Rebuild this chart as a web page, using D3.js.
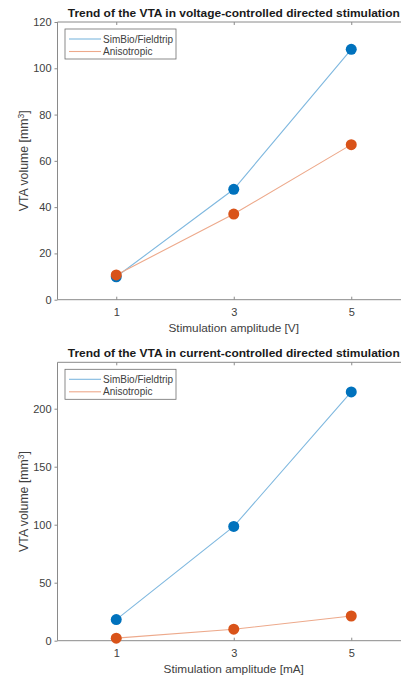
<!DOCTYPE html>
<html>
<head>
<meta charset="utf-8">
<script src="https://cdn.jsdelivr.net/npm/d3@7"></script>
<style>
  body { margin: 0; background: #fff; }
  svg { display: block; font-family: "Liberation Sans", Arial, sans-serif; }
</style>
</head>
<body>
<div id="chart"></div>
<script>
// amplitudes (x)
const amplitudes = [1, 3, 5];
const seriesNames = ["SimBio/Fieldtrip", "Anisotropic"];

// voltage-controlled, VTA volume [mm^3]
const voltSimBio = [9.9, 47.7, 108.2];
const voltAniso = [10.7, 37.0, 67.0];

// current-controlled, VTA volume [mm^3]
const currSimBio = [18.2, 98.5, 214.5];
const currAniso = [2.2, 9.9, 21.3];

const voltTicks = [0, 20, 40, 60, 80, 100, 120];
const currTicks = [0, 50, 100, 150, 200];

const width = 401, height = 679;
const lineColors = ["#7fb8df", "#eda98b"];
const markColors = ["#0072BD", "#D95319"];
const axisColor = "#8a8a8a";
const textColor = "#404040";

const svg = d3.select("#chart")
    .append("svg")
    .attr("width", width)
    .attr("height", height);

const panels = [
    {
        top: 22, bottom: 299.7,
        title: "Trend of the VTA in voltage-controlled directed stimulation",
        xlabel: "Stimulation amplitude [V]",
        ymax: 120, ticks: voltTicks,
        series: [voltSimBio, voltAniso]
    },
    {
        top: 362.3, bottom: 640.7,
        title: "Trend of the VTA in current-controlled directed stimulation",
        xlabel: "Stimulation amplitude [mA]",
        ymax: 240, ticks: currTicks,
        series: [currSimBio, currAniso]
    }
];

const left = 57.5, right = 410;

panels.forEach(p => {
    const g = svg.append("g");

    const x = d3.scaleLinear().domain([0, 6]).range([left, right]);
    const y = d3.scaleLinear().domain([0, p.ymax]).range([p.bottom, p.top]);

    // axis box (left, bottom, top)
    g.append("path")
        .attr("d", `M${right},${p.top}H${left}V${p.bottom}H${right}`)
        .attr("fill", "none")
        .attr("stroke", axisColor)
        .attr("stroke-width", 1);

    // bottom axis, ticks pointing in
    const xAxis = g.append("g")
        .attr("transform", `translate(0,${p.bottom})`)
        .call(d3.axisBottom(x).tickValues(amplitudes).tickFormat(d3.format("d"))
            .tickSizeInner(-3).tickSizeOuter(0).tickPadding(9));
    xAxis.select(".domain").remove();

    // top axis ticks
    const xTop = g.append("g")
        .attr("transform", `translate(0,${p.top})`)
        .call(d3.axisTop(x).tickValues(amplitudes).tickSizeInner(-3).tickSizeOuter(0).tickFormat(""));
    xTop.select(".domain").remove();

    // left axis
    const yAxis = g.append("g")
        .attr("transform", `translate(${left},0)`)
        .call(d3.axisLeft(y).tickValues(p.ticks).tickFormat(d3.format("d"))
            .tickSizeInner(3).tickSizeOuter(0).tickPadding(3));
    yAxis.select(".domain").remove();

    g.selectAll(".tick line").attr("stroke", axisColor);
    g.selectAll(".tick text")
        .attr("fill", textColor)
        .style("font-size", "11px");

    // title
    g.append("text")
        .attr("x", (left + right) / 2)
        .attr("y", p.top - 5)
        .attr("text-anchor", "middle")
        .attr("font-weight", "bold")
        .attr("textLength", 332)
        .attr("lengthAdjust", "spacingAndGlyphs")
        .style("font-size", "11.5px")
        .attr("fill", "#1a1a1a")
        .text(p.title);

    // x label
    g.append("text")
        .attr("x", (left + right) / 2)
        .attr("y", p.bottom + 32)
        .attr("text-anchor", "middle")
        .attr("fill", textColor)
        .style("font-size", "11.8px")
        .text(p.xlabel);

    // y label
    const yl = g.append("text")
        .attr("transform", `translate(28,${(p.top + p.bottom) / 2}) rotate(-90)`)
        .attr("text-anchor", "middle")
        .attr("fill", textColor)
        .style("font-size", "12.3px");
    yl.append("tspan").text("VTA volume [mm");
    yl.append("tspan").attr("dy", -4.5).style("font-size", "8.5px").text("3");
    yl.append("tspan").attr("dy", 4.5).text("]");

    // lines
    const line = d3.line()
        .x((d, i) => x(amplitudes[i]))
        .y(d => y(d));

    p.series.forEach((s, k) => {
        g.append("path")
            .datum(s)
            .attr("d", line)
            .attr("fill", "none")
            .attr("stroke", lineColors[k])
            .attr("stroke-width", 1.1);
    });

    p.series.forEach((s, k) => {
        g.selectAll(null)
            .data(s)
            .join("circle")
            .attr("cx", (d, i) => x(amplitudes[i]))
            .attr("cy", d => y(d))
            .attr("r", 5.5)
            .attr("fill", markColors[k]);
    });

    // legend
    const lg = g.append("g").attr("transform", `translate(65,${p.top + 7})`);
    lg.append("rect")
        .attr("width", 111)
        .attr("height", 30)
        .attr("fill", "#fff")
        .attr("stroke", "#6e6e6e")
        .attr("stroke-width", 0.8);
    seriesNames.forEach((name, k) => {
        const yy = 10 + k * 12.5;
        lg.append("line")
            .attr("x1", 4).attr("x2", 36)
            .attr("y1", yy).attr("y2", yy)
            .attr("stroke", lineColors[k])
            .attr("stroke-width", 1.1);
        lg.append("text")
            .attr("x", 38)
            .attr("y", yy + 3.6)
            .attr("fill", textColor)
            .style("font-size", "10px")
            .text(name);
    });
});
</script>
</body>
</html>
